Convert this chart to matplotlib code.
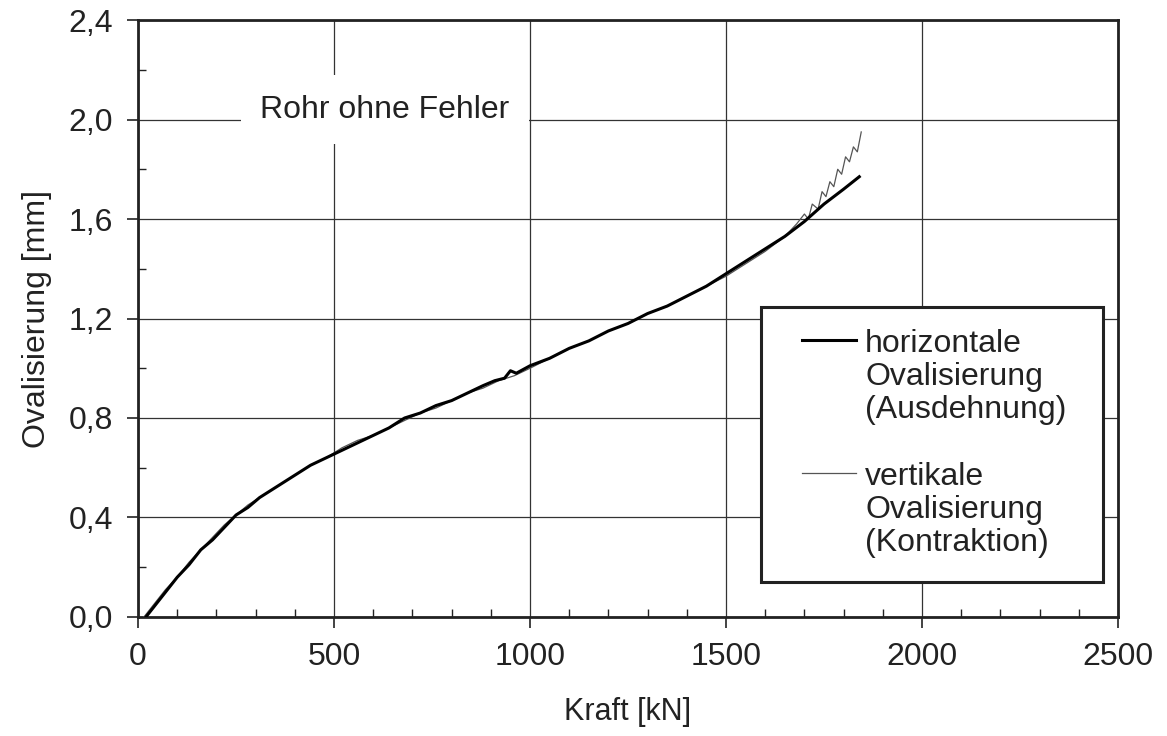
import matplotlib
matplotlib.use("Agg")
import matplotlib.pyplot as plt
from matplotlib.patches import Rectangle
from matplotlib.lines import Line2D
from matplotlib.ticker import FixedLocator, MultipleLocator

plt.rcParams['font.family'] = ['Liberation Sans', 'DejaVu Sans']

# horizontale Ovalisierung (Ausdehnung)
force_h = [20, 40, 70, 100, 130, 160, 190, 220, 250, 280, 310, 340, 370, 400,
           440, 480, 520, 560, 600, 640, 680, 720, 760, 800, 840, 880, 910, 935,
           950, 965, 1000, 1050, 1100, 1150, 1200, 1250, 1300, 1350, 1400, 1450,
           1500, 1550, 1600, 1650, 1700, 1750, 1800, 1840]
oval_h = [0.00, 0.04, 0.10, 0.16, 0.21, 0.27, 0.31, 0.36, 0.41, 0.44, 0.48, 0.51,
          0.54, 0.57, 0.61, 0.64, 0.67, 0.70, 0.73, 0.76, 0.80, 0.82, 0.85, 0.87,
          0.90, 0.93, 0.95, 0.96, 0.99, 0.98, 1.01, 1.04, 1.08, 1.11, 1.15, 1.18,
          1.22, 1.25, 1.29, 1.33, 1.38, 1.43, 1.48, 1.53, 1.59, 1.66, 1.72, 1.77]

# vertikale Ovalisierung (Kontraktion)
force_v = [15, 40, 70, 100, 130, 160, 190, 220, 250, 280, 310, 340, 370, 400,
           440, 480, 520, 560, 600, 640, 680, 720, 760, 800, 840, 880, 920, 960,
           1000, 1050, 1100, 1150, 1200, 1250, 1300, 1350, 1400, 1450, 1500, 1550,
           1600, 1650, 1680, 1700, 1710, 1720, 1735, 1745, 1755, 1765, 1775, 1785,
           1795, 1805, 1815, 1825, 1835, 1845]
oval_v = [0.00, 0.05, 0.11, 0.16, 0.22, 0.27, 0.32, 0.37, 0.41, 0.45, 0.48, 0.51,
          0.54, 0.57, 0.61, 0.64, 0.68, 0.71, 0.73, 0.76, 0.79, 0.82, 0.84, 0.87,
          0.90, 0.92, 0.95, 0.97, 1.00, 1.04, 1.08, 1.11, 1.15, 1.18, 1.22, 1.25,
          1.29, 1.33, 1.37, 1.42, 1.47, 1.53, 1.58, 1.62, 1.60, 1.66, 1.64, 1.71,
          1.69, 1.75, 1.73, 1.80, 1.78, 1.85, 1.83, 1.89, 1.87, 1.95]

x_ticks = [0, 500, 1000, 1500, 2000, 2500]
y_ticks = [0.0, 0.4, 0.8, 1.2, 1.6, 2.0, 2.4]
y_labels = ["0,0", "0,4", "0,8", "1,2", "1,6", "2,0", "2,4"]

fig = plt.figure(figsize=(11.67, 7.36), dpi=100)
ax = fig.add_axes([0.1183, 0.1617, 0.8397, 0.8111])

ax.plot(force_v, oval_v, color="#555555", lw=0.9, zorder=3)
ax.plot(force_h, oval_h, color="black", lw=2.2, zorder=4)

ax.set_xlim(0, 2500)
ax.set_ylim(0, 2.4)
ax.xaxis.set_major_locator(FixedLocator(x_ticks))
ax.yaxis.set_major_locator(FixedLocator(y_ticks))
ax.set_yticklabels(y_labels)
ax.xaxis.set_minor_locator(MultipleLocator(100))
ax.yaxis.set_minor_locator(MultipleLocator(0.2))
ax.tick_params(which="major", direction="out", length=8, width=1.2,
               labelsize=23, colors="#222222", pad=10)
ax.tick_params(which="minor", direction="in", length=6, width=1.0, color="#222222")
ax.grid(True, which="major", color="#333333", lw=0.9)
ax.set_axisbelow(True)
for s in ax.spines.values():
    s.set_linewidth(2.0)
    s.set_color("#222222")

ax.set_xlabel("Kraft [kN]", fontsize=22, color="#222222", labelpad=18)
ax.set_ylabel("Ovalisierung [mm]", fontsize=23, color="#222222", labelpad=12)

ax.text(630, 2.04, "Rohr ohne Fehler", fontsize=23, color="#222222",
        ha="center", va="center", zorder=5,
        bbox=dict(facecolor="white", edgecolor="none", pad=14))

# legend box drawn by hand
ax.add_patch(Rectangle((0.636, 0.059), 0.349, 0.460, transform=ax.transAxes,
                       facecolor="white", edgecolor="#222222", lw=2.2, zorder=6))
ax.add_line(Line2D([0.678, 0.733], [0.464, 0.464], transform=ax.transAxes,
                   color="black", lw=2.2, zorder=7))
ax.add_line(Line2D([0.678, 0.733], [0.241, 0.241], transform=ax.transAxes,
                   color="#555555", lw=0.9, zorder=7))
ax.text(0.742, 0.402, "horizontale\nOvalisierung\n(Ausdehnung)", transform=ax.transAxes,
        fontsize=23, color="#222222", ha="left", va="center", linespacing=1.14, zorder=7)
ax.text(0.742, 0.179, "vertikale\nOvalisierung\n(Kontraktion)", transform=ax.transAxes,
        fontsize=23, color="#222222", ha="left", va="center", linespacing=1.14, zorder=7)

fig.savefig("out.png", dpi=100)
